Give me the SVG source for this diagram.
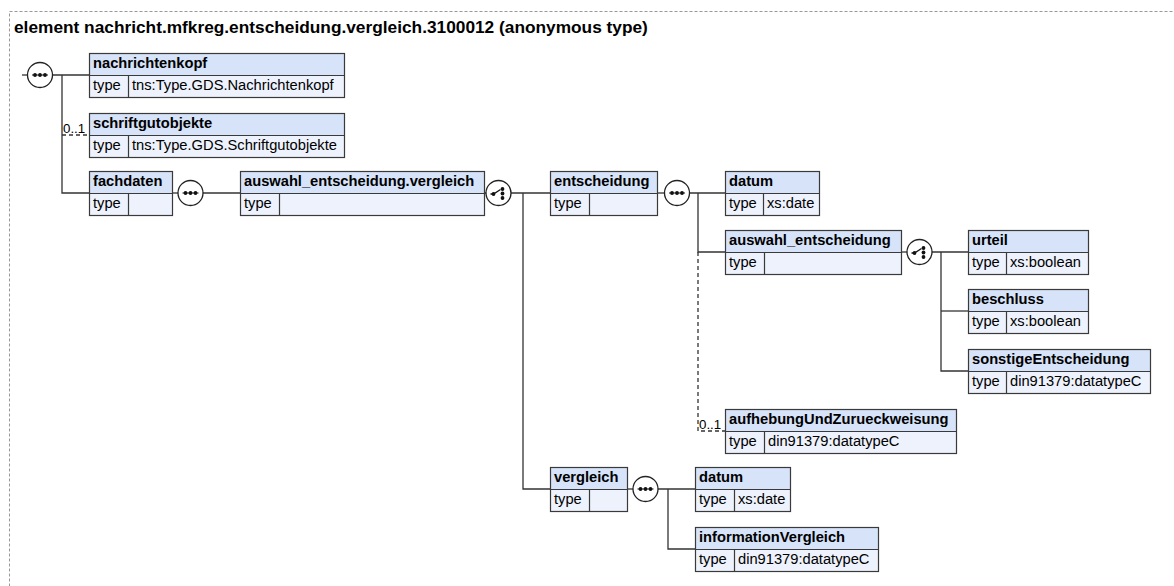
<svg xmlns="http://www.w3.org/2000/svg" width="1174" height="586" viewBox="0 0 1174 586">
<style>
.hd{fill:#d6e3f8;stroke:none}
.tr{fill:#edf2fc;stroke:none}
.bx{fill:none;stroke:#3a3a3a;stroke-width:1.2}
.dv{stroke:#3a3a3a;stroke-width:1.2}
.ht{font-family:"Liberation Sans",Arial,sans-serif;font-size:14.7px;font-weight:bold;fill:#000}
.tt{font-family:"Liberation Sans",Arial,sans-serif;font-size:14.7px;fill:#000}
.ln{fill:none;stroke:#333;stroke-width:1.3}
.dash{fill:none;stroke:#333;stroke-width:1.3;stroke-dasharray:4,3}
.cir{fill:#fff;stroke:#222;stroke-width:1.3}
.dot{fill:#111}
.occ{font-family:"Liberation Sans",Arial,sans-serif;font-size:13.3px;fill:#000}
</style>
<defs>
<g id="seq">
<circle class="cir" cx="0" cy="0" r="12.5"/>
<line x1="-8" y1="0" x2="8" y2="0" stroke="#111" stroke-width="1"/>
<circle class="dot" cx="-5" cy="0" r="1.9"/>
<circle class="dot" cx="0" cy="0" r="1.9"/>
<circle class="dot" cx="5" cy="0" r="1.9"/>
</g>
<g id="cho">
<circle class="cir" cx="0" cy="0" r="12.5"/>
<path d="M-8 1 H-5 L2 -3.5" fill="none" stroke="#111" stroke-width="1.3"/>
<circle class="dot" cx="-5" cy="1" r="1.9"/>
<circle class="dot" cx="4" cy="-4" r="1.9"/>
<circle class="dot" cx="4" cy="0.5" r="1.9"/>
<circle class="dot" cx="4" cy="5" r="1.9"/>
</g>
</defs>
<rect x="9.5" y="11.5" width="1200" height="600" fill="none" stroke="#999" stroke-width="1" stroke-dasharray="3,2"/>
<text x="14" y="33" font-family="'Liberation Sans',Arial,sans-serif" font-size="17.3" font-weight="bold">element nachricht.mfkreg.entscheidung.vergleich.3100012 (anonymous type)</text>

<g id="connectors">
<path class="ln" d="M22 75 H27.5"/>
<path class="ln" d="M52.5 75 H89"/>
<path class="ln" d="M62 75 V193 H89"/>
<path class="dash" d="M62 135 H89"/>
<path class="ln" d="M172 193 H178"/>
<path class="ln" d="M203 193 H240"/>
<path class="ln" d="M484 193 H486"/>
<path class="ln" d="M511 193 H550"/>
<path class="ln" d="M523 193 V489 H550"/>
<path class="ln" d="M657 193 H664.5"/>
<path class="ln" d="M689.5 193 H725"/>
<path class="ln" d="M698 193 V252 H725"/>
<path class="dash" d="M698 252 V431 H725"/>
<path class="ln" d="M901 252 H907"/>
<path class="ln" d="M932 252 H968"/>
<path class="ln" d="M941 252 V371 H968"/>
<path class="ln" d="M941 311 H968"/>
<path class="ln" d="M627 489 H633"/>
<path class="ln" d="M658 489 H695"/>
<path class="ln" d="M668 489 V549 H695"/>
<text class="occ" x="63" y="133">0..1</text>
<text class="occ" x="699" y="429">0..1</text>
</g>

<g id="seq1"><use href="#seq" x="40" y="75"/></g>
<g id="seq2"><use href="#seq" x="190.5" y="193"/></g>
<g id="choice1"><use href="#cho" x="498.5" y="193"/></g>
<g id="seq3"><use href="#seq" x="677" y="193"/></g>
<g id="choice2"><use href="#cho" x="919.5" y="252"/></g>
<g id="seq4"><use href="#seq" x="645.5" y="489"/></g>

<g id="n-nachrichtenkopf">
<rect class="hd" x="89.5" y="53.5" width="255" height="22"/><rect class="tr" x="89.5" y="75.5" width="255" height="22"/>
<rect class="bx" x="89.5" y="53.5" width="255" height="44"/><line class="dv" x1="89.5" y1="75.5" x2="344.5" y2="75.5"/><line class="dv" x1="128.5" y1="75.5" x2="128.5" y2="97.5"/>
<text class="ht" x="93" y="68">nachrichtenkopf</text><text class="tt" x="93" y="90">type</text><text class="tt" x="132" y="90">tns:Type.GDS.Nachrichtenkopf</text>
</g>
<g id="n-schriftgutobjekte">
<rect class="hd" x="89.5" y="113.5" width="255" height="22"/><rect class="tr" x="89.5" y="135.5" width="255" height="22"/>
<rect class="bx" x="89.5" y="113.5" width="255" height="44"/><line class="dv" x1="89.5" y1="135.5" x2="344.5" y2="135.5"/><line class="dv" x1="128.5" y1="135.5" x2="128.5" y2="157.5"/>
<text class="ht" x="93" y="128">schriftgutobjekte</text><text class="tt" x="93" y="150">type</text><text class="tt" x="132" y="150">tns:Type.GDS.Schriftgutobjekte</text>
</g>
<g id="n-fachdaten">
<rect class="hd" x="89.5" y="171.5" width="83" height="22"/><rect class="tr" x="89.5" y="193.5" width="83" height="22"/>
<rect class="bx" x="89.5" y="171.5" width="83" height="44"/><line class="dv" x1="89.5" y1="193.5" x2="172.5" y2="193.5"/><line class="dv" x1="128.5" y1="193.5" x2="128.5" y2="215.5"/>
<text class="ht" x="93" y="186">fachdaten</text><text class="tt" x="93" y="208">type</text>
</g>
<g id="n-auswahl_entscheidung_vergleich">
<rect class="hd" x="240.5" y="171.5" width="244" height="22"/><rect class="tr" x="240.5" y="193.5" width="244" height="22"/>
<rect class="bx" x="240.5" y="171.5" width="244" height="44"/><line class="dv" x1="240.5" y1="193.5" x2="484.5" y2="193.5"/><line class="dv" x1="279.5" y1="193.5" x2="279.5" y2="215.5"/>
<text class="ht" x="244" y="186">auswahl_entscheidung.vergleich</text><text class="tt" x="244" y="208">type</text>
</g>
<g id="n-entscheidung">
<rect class="hd" x="550.5" y="171.5" width="107" height="22"/><rect class="tr" x="550.5" y="193.5" width="107" height="22"/>
<rect class="bx" x="550.5" y="171.5" width="107" height="44"/><line class="dv" x1="550.5" y1="193.5" x2="657.5" y2="193.5"/><line class="dv" x1="589.5" y1="193.5" x2="589.5" y2="215.5"/>
<text class="ht" x="554" y="186">entscheidung</text><text class="tt" x="554" y="208">type</text>
</g>
<g id="n-datum1">
<rect class="hd" x="725.5" y="171.5" width="94" height="22"/><rect class="tr" x="725.5" y="193.5" width="94" height="22"/>
<rect class="bx" x="725.5" y="171.5" width="94" height="44"/><line class="dv" x1="725.5" y1="193.5" x2="819.5" y2="193.5"/><line class="dv" x1="763.5" y1="193.5" x2="763.5" y2="215.5"/>
<text class="ht" x="729" y="186">datum</text><text class="tt" x="729" y="208">type</text><text class="tt" x="767" y="208">xs:date</text>
</g>
<g id="n-auswahl_entscheidung">
<rect class="hd" x="725.5" y="230.5" width="176" height="22"/><rect class="tr" x="725.5" y="252.5" width="176" height="22"/>
<rect class="bx" x="725.5" y="230.5" width="176" height="44"/><line class="dv" x1="725.5" y1="252.5" x2="901.5" y2="252.5"/><line class="dv" x1="764.5" y1="252.5" x2="764.5" y2="274.5"/>
<text class="ht" x="729" y="245">auswahl_entscheidung</text><text class="tt" x="729" y="267">type</text>
</g>
<g id="n-urteil">
<rect class="hd" x="968.5" y="230.5" width="120" height="22"/><rect class="tr" x="968.5" y="252.5" width="120" height="22"/>
<rect class="bx" x="968.5" y="230.5" width="120" height="44"/><line class="dv" x1="968.5" y1="252.5" x2="1088.5" y2="252.5"/><line class="dv" x1="1006.5" y1="252.5" x2="1006.5" y2="274.5"/>
<text class="ht" x="972" y="245">urteil</text><text class="tt" x="972" y="267">type</text><text class="tt" x="1010" y="267">xs:boolean</text>
</g>
<g id="n-beschluss">
<rect class="hd" x="968.5" y="289.5" width="120" height="22"/><rect class="tr" x="968.5" y="311.5" width="120" height="22"/>
<rect class="bx" x="968.5" y="289.5" width="120" height="44"/><line class="dv" x1="968.5" y1="311.5" x2="1088.5" y2="311.5"/><line class="dv" x1="1006.5" y1="311.5" x2="1006.5" y2="333.5"/>
<text class="ht" x="972" y="304">beschluss</text><text class="tt" x="972" y="326">type</text><text class="tt" x="1010" y="326">xs:boolean</text>
</g>
<g id="n-sonstigeEntscheidung">
<rect class="hd" x="968.5" y="349.5" width="182" height="22"/><rect class="tr" x="968.5" y="371.5" width="182" height="22"/>
<rect class="bx" x="968.5" y="349.5" width="182" height="44"/><line class="dv" x1="968.5" y1="371.5" x2="1150.5" y2="371.5"/><line class="dv" x1="1006.5" y1="371.5" x2="1006.5" y2="393.5"/>
<text class="ht" x="972" y="364">sonstigeEntscheidung</text><text class="tt" x="972" y="386">type</text><text class="tt" x="1010" y="386">din91379:datatypeC</text>
</g>
<g id="n-aufhebungUndZurueckweisung">
<rect class="hd" x="725.5" y="409.5" width="231" height="22"/><rect class="tr" x="725.5" y="431.5" width="231" height="22"/>
<rect class="bx" x="725.5" y="409.5" width="231" height="44"/><line class="dv" x1="725.5" y1="431.5" x2="956.5" y2="431.5"/><line class="dv" x1="764.5" y1="431.5" x2="764.5" y2="453.5"/>
<text class="ht" x="729" y="424">aufhebungUndZurueckweisung</text><text class="tt" x="729" y="446">type</text><text class="tt" x="768" y="446">din91379:datatypeC</text>
</g>
<g id="n-vergleich">
<rect class="hd" x="550.5" y="467.5" width="77" height="22"/><rect class="tr" x="550.5" y="489.5" width="77" height="22"/>
<rect class="bx" x="550.5" y="467.5" width="77" height="44"/><line class="dv" x1="550.5" y1="489.5" x2="627.5" y2="489.5"/><line class="dv" x1="589.5" y1="489.5" x2="589.5" y2="511.5"/>
<text class="ht" x="554" y="482">vergleich</text><text class="tt" x="554" y="504">type</text>
</g>
<g id="n-datum2">
<rect class="hd" x="695.5" y="467.5" width="95" height="22"/><rect class="tr" x="695.5" y="489.5" width="95" height="22"/>
<rect class="bx" x="695.5" y="467.5" width="95" height="44"/><line class="dv" x1="695.5" y1="489.5" x2="790.5" y2="489.5"/><line class="dv" x1="734.5" y1="489.5" x2="734.5" y2="511.5"/>
<text class="ht" x="699" y="482">datum</text><text class="tt" x="699" y="504">type</text><text class="tt" x="738" y="504">xs:date</text>
</g>
<g id="n-informationVergleich">
<rect class="hd" x="695.5" y="527.5" width="183" height="22"/><rect class="tr" x="695.5" y="549.5" width="183" height="22"/>
<rect class="bx" x="695.5" y="527.5" width="183" height="44"/><line class="dv" x1="695.5" y1="549.5" x2="878.5" y2="549.5"/><line class="dv" x1="734.5" y1="549.5" x2="734.5" y2="571.5"/>
<text class="ht" x="699" y="542">informationVergleich</text><text class="tt" x="699" y="564">type</text><text class="tt" x="738" y="564">din91379:datatypeC</text>
</g>
</svg>
